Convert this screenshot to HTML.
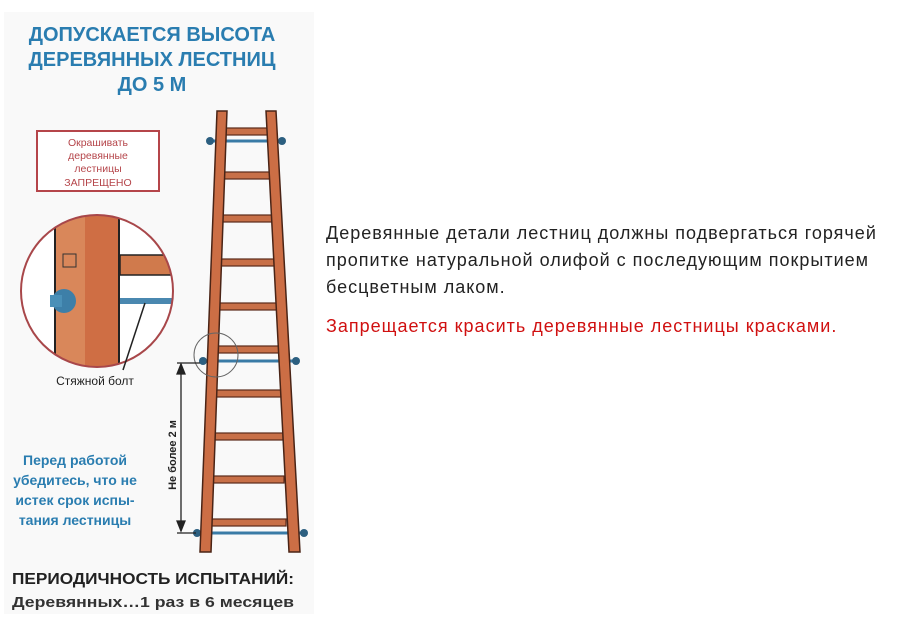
<!DOCTYPE html>
<html><head><meta charset="utf-8"><style>
body{margin:0;width:917px;height:628px;background:#fff;overflow:hidden;position:relative;font-family:"Liberation Sans",sans-serif}
.t{position:absolute;left:326px;font-size:18px;line-height:27px;color:#222;letter-spacing:1.0px;white-space:nowrap}
</style></head><body>
<svg width="917" height="628" style="position:absolute;left:0;top:0" font-family="Liberation Sans, sans-serif">
<rect x="4" y="12" width="310" height="602" fill="#f9f9f9"/>
<g fill="#2a7db0" font-weight="bold" font-size="20" text-anchor="middle">
<text x="152" y="41">ДОПУСКАЕТСЯ ВЫСОТА</text>
<text x="152" y="66">ДЕРЕВЯННЫХ ЛЕСТНИЦ</text>
<text x="152" y="91">ДО 5 М</text>
</g>
<rect x="37" y="131" width="122" height="60" fill="#fff" stroke="#b5454a" stroke-width="2"/>
<g fill="#b5454a" font-size="10.5" text-anchor="middle">
<text x="98" y="146">Окрашивать</text><text x="98" y="159">деревянные</text><text x="98" y="172">лестницы</text><text x="98" y="186">ЗАПРЕЩЕНО</text>
</g>
<defs><clipPath id="c"><circle cx="97" cy="291" r="76"/></clipPath></defs>
<circle cx="97" cy="291" r="76" fill="#fff"/>
<g clip-path="url(#c)">
<rect x="55" y="200" width="64" height="190" fill="#d9875a"/>
<rect x="85" y="200" width="34" height="190" fill="#cf6e44"/>
<line x1="55" y1="200" x2="55" y2="390" stroke="#222" stroke-width="2"/>
<line x1="119" y1="200" x2="119" y2="390" stroke="#222" stroke-width="2"/>
<rect x="120" y="255" width="60" height="20" fill="#d07a4c" stroke="#222" stroke-width="1.5"/>
<rect x="120" y="298" width="60" height="6" fill="#4a88b0"/>
<rect x="63" y="254" width="13" height="13" fill="none" stroke="#333"/>
<circle cx="64" cy="301" r="12" fill="#3d7fa8"/><rect x="50" y="295" width="12" height="12" fill="#4a90b8"/>
</g>
<circle cx="97" cy="291" r="76" fill="none" stroke="#a8474a" stroke-width="2"/>
<line x1="145" y1="303" x2="123" y2="370" stroke="#222" stroke-width="1.5"/>
<text x="95" y="385" font-size="12" text-anchor="middle" fill="#222">Стяжной болт</text>
<g fill="#2a7db0" font-weight="bold" font-size="14" text-anchor="middle">
<text x="75" y="465">Перед работой</text><text x="75" y="485">убедитесь, что не</text><text x="75" y="505">истек срок испы-</text><text x="75" y="525">тания лестницы</text>
</g>
<text x="12" y="584" font-size="16" font-weight="bold" fill="#222" textLength="282" lengthAdjust="spacingAndGlyphs">ПЕРИОДИЧНОСТЬ ИСПЫТАНИЙ:</text>
<text x="12" y="607" font-size="15" font-weight="bold" fill="#333" textLength="282" lengthAdjust="spacingAndGlyphs">Деревянных…1 раз в 6 месяцев</text>
<g fill="#c87048" stroke="#5a2a1a" stroke-width="1.2">
<rect x="222" y="128" width="50" height="7"/><rect x="221" y="172" width="52" height="7"/>
<rect x="220" y="215" width="55" height="7"/><rect x="219" y="259" width="57" height="7"/>
<rect x="217" y="303" width="61" height="7"/><rect x="216" y="346" width="63" height="7"/>
<rect x="215" y="390" width="66" height="7"/><rect x="213" y="433" width="70" height="7"/>
<rect x="212" y="476" width="72" height="7"/><rect x="211" y="519" width="75" height="7"/>
</g>
<g stroke="#3a7ba6" stroke-width="3">
<line x1="210" y1="141" x2="282" y2="141"/><line x1="203" y1="361" x2="296" y2="361"/><line x1="196" y1="533" x2="305" y2="533"/>
</g>
<g fill="#2c5f80"><circle cx="210" cy="141" r="4"/><circle cx="282" cy="141" r="4"/><circle cx="203" cy="361" r="4"/><circle cx="296" cy="361" r="4"/><circle cx="197" cy="533" r="4"/><circle cx="304" cy="533" r="4"/></g>
<g fill="#cc6e45" stroke="#4a2416" stroke-width="1.5">
<polygon points="217,111 227,111 211,552 200,552"/>
<polygon points="266,111 276,111 300,552 289,552"/>
</g>
<circle cx="216" cy="355" r="22" fill="none" stroke="#666" stroke-width="1"/>
<g stroke="#222" stroke-width="1.3" fill="#222">
<line x1="181" y1="364" x2="181" y2="531"/><line x1="177" y1="363" x2="200" y2="363"/><line x1="177" y1="533" x2="196" y2="533"/>
<polygon points="181,364 177,374 185,374"/><polygon points="181,531 177,521 185,521"/>
</g>
<text transform="translate(176,455) rotate(-90)" font-size="11" font-weight="bold" fill="#222" text-anchor="middle">Не более 2 м</text>
</svg>
<div class="t" style="top:220px">Деревянные детали лестниц должны подвергаться горячей<br>пропитке натуральной олифой с последующим покрытием<br>бесцветным лаком.</div>
<div class="t" style="top:313px;color:#d01010">Запрещается красить деревянные лестницы красками.</div>
</body></html>
